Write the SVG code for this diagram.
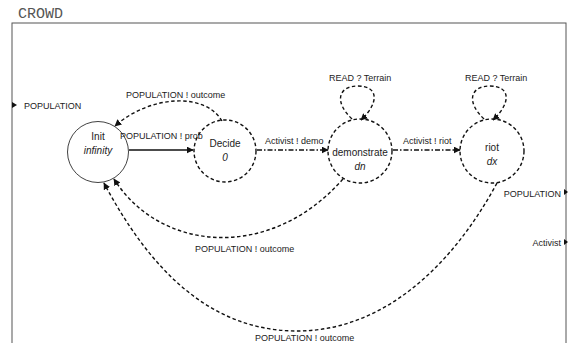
<svg xmlns="http://www.w3.org/2000/svg" width="568" height="343" viewBox="0 0 568 343">
<style>
.lbl{font-family:"Liberation Sans",Arial,sans-serif;font-size:9px;fill:#222}
.nm{font-family:"Liberation Sans",Arial,sans-serif;font-size:10px;fill:#222;text-anchor:middle}
.it{font-style:italic}
.st{fill:none;stroke:#111;stroke-width:1.4;stroke-dasharray:3.5,2.5}
.e{fill:none;stroke:#111;stroke-width:1.4;stroke-dasharray:3.5,2.5}
.dd{fill:none;stroke:#111;stroke-width:1.4;stroke-dasharray:5,2,1.5,2}
</style>
<defs>
<marker id="ah" viewBox="0 0 10 10" refX="9" refY="5" markerWidth="7" markerHeight="7" markerUnits="userSpaceOnUse" orient="auto">
<path d="M0,0 L10,5 L0,10 z" fill="#111"/>
</marker>
</defs>
<text x="18" y="18" font-family="'Liberation Mono','Courier New',monospace" font-size="15" fill="#555">CROWD</text>
<rect x="12" y="23" width="554" height="340" fill="none" stroke="#555" stroke-width="1"/>
<g id="ports">
<path d="M12,102 L17,105 L12,108 z" fill="#111"/>
<text class="lbl" x="24" y="109">POPULATION</text>
<path d="M564,189 L568,192 L564,195 z" fill="#111"/>
<text class="lbl" x="561" y="197" text-anchor="end">POPULATION</text>
<path d="M564,239 L568,242 L564,245 z" fill="#111"/>
<text class="lbl" x="561" y="246" text-anchor="end">Activist</text>
</g>
<g id="init">
<circle cx="98" cy="152" r="30.5" fill="#fff" stroke="#111" stroke-width="0.8"/>
<text class="nm" x="98" y="140">Init</text>
<text class="nm it" x="98" y="154">infinity</text>
</g>
<g id="decide">
<circle class="st" cx="225" cy="151" r="31"/>
<text class="nm" x="225" y="147">Decide</text>
<text class="nm it" x="225" y="161">0</text>
</g>
<g id="demonstrate">
<circle class="st" cx="360" cy="151" r="32"/>
<text class="nm" x="360" y="156">demonstrate</text>
<text class="nm it" x="360" y="170">dn</text>
</g>
<g id="riot">
<circle class="st" cx="492" cy="151" r="32"/>
<text class="nm" x="492" y="151">riot</text>
<text class="nm it" x="492" y="165">dx</text>
</g>
<g id="connectors">
<path d="M129,150 L193,150" fill="none" stroke="#111" stroke-width="1.4" marker-end="url(#ah)"/>
<text class="lbl" x="120" y="139">POPULATION ! prob</text>
<path class="dd" d="M257,150 L328,150" marker-end="url(#ah)"/>
<text class="lbl" x="265" y="144">Activist ! demo</text>
<path class="dd" d="M393,150 L460,150" marker-end="url(#ah)"/>
<text class="lbl" x="403" y="144">Activist ! riot</text>
<path class="e" d="M222,121 C205,92 150,95 115,126" marker-end="url(#ah)"/>
<text class="lbl" x="126" y="98">POPULATION ! outcome</text>
<path class="e" d="M352,119 C334,102 338,86 358,86 C378,86 380,102 361,120" marker-end="url(#ah)"/>
<text class="lbl" x="329" y="81">READ ? Terrain</text>
<path class="e" d="M484,119 C466,102 470,86 490,86 C510,86 512,102 493,120" marker-end="url(#ah)"/>
<text class="lbl" x="465" y="81">READ ? Terrain</text>
<path class="e" d="M343,179 C270,262 160,252 114,179" marker-end="url(#ah)"/>
<text class="lbl" x="195" y="252">POPULATION ! outcome</text>
<path class="e" d="M497,183 C450,270 380,332 295,331 C210,330 150,270 104,183" marker-end="url(#ah)"/>
<text class="lbl" x="255" y="341">POPULATION ! outcome</text>
</g>
</svg>
